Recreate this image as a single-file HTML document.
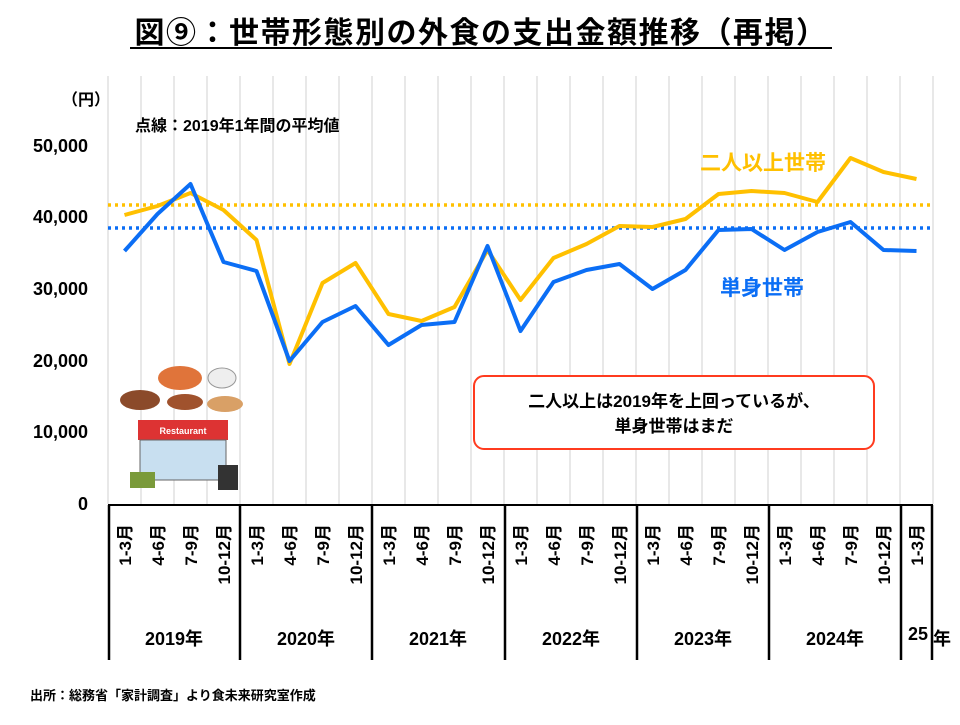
<!DOCTYPE html>
<html><head><meta charset="utf-8"><style>
body{margin:0;background:#fff}
text{font-family:"Liberation Sans","Noto Sans CJK JP",sans-serif;font-weight:bold}
</style></head><body>
<svg width="960" height="720" viewBox="0 0 960 720" xmlns="http://www.w3.org/2000/svg">
<rect width="960" height="720" fill="#fff"/>
<text x="481" y="43" font-size="30" letter-spacing="1.5" text-anchor="middle" fill="#000">図⑨：世帯形態別の外食の支出金額推移（再掲）</text>
<line x1="130" y1="48" x2="832" y2="48" stroke="#000" stroke-width="2"/>
<g stroke="#d9d9d9" stroke-width="1.2">
<line x1="108" y1="76" x2="108" y2="504"/>
<line x1="141" y1="76" x2="141" y2="504"/><line x1="174" y1="76" x2="174" y2="504"/><line x1="207" y1="76" x2="207" y2="504"/><line x1="240" y1="76" x2="240" y2="504"/><line x1="273" y1="76" x2="273" y2="504"/><line x1="306" y1="76" x2="306" y2="504"/><line x1="339" y1="76" x2="339" y2="504"/><line x1="372" y1="76" x2="372" y2="504"/><line x1="405" y1="76" x2="405" y2="504"/><line x1="438" y1="76" x2="438" y2="504"/><line x1="471" y1="76" x2="471" y2="504"/><line x1="504" y1="76" x2="504" y2="504"/><line x1="537" y1="76" x2="537" y2="504"/><line x1="570" y1="76" x2="570" y2="504"/><line x1="603" y1="76" x2="603" y2="504"/><line x1="636" y1="76" x2="636" y2="504"/><line x1="669" y1="76" x2="669" y2="504"/><line x1="702" y1="76" x2="702" y2="504"/><line x1="735" y1="76" x2="735" y2="504"/><line x1="768" y1="76" x2="768" y2="504"/><line x1="801" y1="76" x2="801" y2="504"/><line x1="834" y1="76" x2="834" y2="504"/><line x1="867" y1="76" x2="867" y2="504"/><line x1="900" y1="76" x2="900" y2="504"/><line x1="933" y1="76" x2="933" y2="504"/>
</g>
<line x1="108" y1="505" x2="933" y2="505" stroke="#000" stroke-width="2"/>
<g stroke="#000" stroke-width="2.5">
<line x1="109" y1="505" x2="109" y2="660"/><line x1="240" y1="505" x2="240" y2="660"/><line x1="372" y1="505" x2="372" y2="660"/><line x1="505" y1="505" x2="505" y2="660"/><line x1="637" y1="505" x2="637" y2="660"/><line x1="769" y1="505" x2="769" y2="660"/><line x1="901" y1="505" x2="901" y2="660"/><line x1="932" y1="505" x2="932" y2="660"/>
</g>
<g font-size="18" fill="#000" text-anchor="end">
<text x="88" y="152">50,000</text><text x="88" y="223">40,000</text><text x="88" y="295">30,000</text><text x="88" y="367">20,000</text><text x="88" y="438">10,000</text><text x="88" y="510">0</text>
</g>
<text x="62" y="105" font-size="16">（円）</text>
<text x="135" y="131" font-size="16">点線：2019年1年間の平均値</text>
<g font-size="18" text-anchor="middle">
<text x="174" y="645">2019年</text><text x="306" y="645">2020年</text><text x="438" y="645">2021年</text><text x="571" y="645">2022年</text><text x="703" y="645">2023年</text><text x="835" y="645">2024年</text><text x="918" y="640">25</text><text x="942" y="645">年</text>
</g>
<line x1="108" y1="205" x2="933" y2="205" stroke="#ffc000" stroke-width="3.5" stroke-dasharray="3,4"/>
<line x1="108" y1="228" x2="933" y2="228" stroke="#0b6ef5" stroke-width="3.5" stroke-dasharray="3,4"/>
<polyline fill="none" stroke="#ffc000" stroke-width="4" stroke-linejoin="round" points="124.5,215 157.5,206 190.5,193 223.5,210 256.5,240 289.5,364 322.5,283 355.5,263 388.5,314 421.5,321 454.5,307 487.5,250 520.5,300 553.5,258 586.5,244 619.5,226 652.5,227 685.5,219 718.5,194 751.5,191 784.5,193 817.5,202 850.5,158 883.5,172 916.5,179"/>
<polyline fill="none" stroke="#0b6ef5" stroke-width="4" stroke-linejoin="round" points="124.5,251 157.5,214 190.5,184 223.5,262 256.5,271 289.5,361 322.5,322 355.5,306 388.5,345 421.5,325 454.5,322 487.5,246 520.5,331 553.5,282 586.5,270 619.5,264 652.5,289 685.5,270 718.5,230 751.5,229 784.5,250 817.5,232 850.5,222 883.5,250 916.5,251"/>
<text x="700" y="170" font-size="21" fill="#ffc000">二人以上世帯</text>
<text x="720" y="295" font-size="21" fill="#0b6ef5">単身世帯</text>
<rect x="474" y="376" width="400" height="73" rx="10" fill="#fff" stroke="#ff3b1f" stroke-width="2"/>
<text x="674" y="407" font-size="17" text-anchor="middle">二人以上は2019年を上回っているが、</text>
<text x="674" y="432" font-size="17" text-anchor="middle">単身世帯はまだ</text>
<ellipse cx="140" cy="400" rx="20" ry="10" fill="#8b4a2a"/>
<ellipse cx="180" cy="378" rx="22" ry="12" fill="#e0743a"/>
<ellipse cx="222" cy="378" rx="14" ry="10" fill="#eee" stroke="#999"/>
<ellipse cx="185" cy="402" rx="18" ry="8" fill="#a0522d"/>
<ellipse cx="225" cy="404" rx="18" ry="8" fill="#d9a066"/>
<rect x="138" y="420" width="90" height="20" fill="#d33"/>
<text x="183" y="434" font-size="9" fill="#fff" text-anchor="middle">Restaurant</text>
<rect x="140" y="440" width="86" height="40" fill="#c8dff0" stroke="#666"/>
<rect x="130" y="472" width="25" height="16" fill="#7a9a3a"/>
<rect x="218" y="465" width="20" height="25" fill="#333"/>
<text x="30" y="700" font-size="13">出所：総務省「家計調査」より食未来研究室作成</text>
<g font-size="17" text-anchor="end">
<text transform="translate(131,524) rotate(-90)">1-3月</text><text transform="translate(164,524) rotate(-90)">4-6月</text><text transform="translate(197,524) rotate(-90)">7-9月</text><text transform="translate(230,524) rotate(-90)">10-12月</text>
<text transform="translate(263,524) rotate(-90)">1-3月</text><text transform="translate(296,524) rotate(-90)">4-6月</text><text transform="translate(329,524) rotate(-90)">7-9月</text><text transform="translate(362,524) rotate(-90)">10-12月</text>
<text transform="translate(395,524) rotate(-90)">1-3月</text><text transform="translate(428,524) rotate(-90)">4-6月</text><text transform="translate(461,524) rotate(-90)">7-9月</text><text transform="translate(494,524) rotate(-90)">10-12月</text>
<text transform="translate(527,524) rotate(-90)">1-3月</text><text transform="translate(560,524) rotate(-90)">4-6月</text><text transform="translate(593,524) rotate(-90)">7-9月</text><text transform="translate(626,524) rotate(-90)">10-12月</text>
<text transform="translate(659,524) rotate(-90)">1-3月</text><text transform="translate(692,524) rotate(-90)">4-6月</text><text transform="translate(725,524) rotate(-90)">7-9月</text><text transform="translate(758,524) rotate(-90)">10-12月</text>
<text transform="translate(791,524) rotate(-90)">1-3月</text><text transform="translate(824,524) rotate(-90)">4-6月</text><text transform="translate(857,524) rotate(-90)">7-9月</text><text transform="translate(890,524) rotate(-90)">10-12月</text>
<text transform="translate(923,524) rotate(-90)">1-3月</text>
</g>
</svg>
</body></html>
